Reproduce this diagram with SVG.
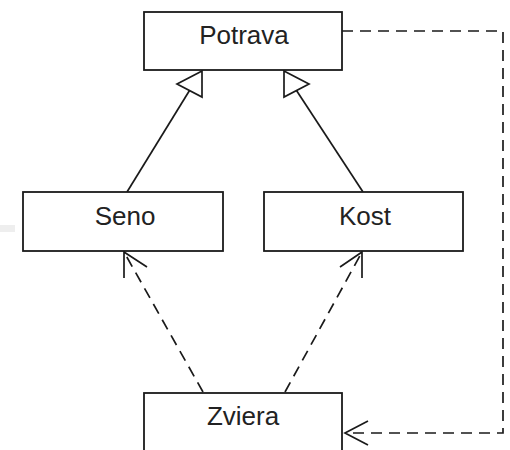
<svg xmlns="http://www.w3.org/2000/svg" width="510" height="450" viewBox="0 0 510 450">
<style>
.box{fill:#fff;stroke:#1a1a1a;stroke-width:1.8}
.lbl{font-family:"Liberation Sans",Arial,sans-serif;font-size:26px;fill:#222;text-anchor:middle}
.ln{fill:none;stroke:#1a1a1a;stroke-width:1.7}
.dash{fill:none;stroke:#1a1a1a;stroke-width:1.7;stroke-dasharray:11 7}
.tri{fill:#fff;stroke:#1a1a1a;stroke-width:1.7;stroke-linejoin:miter}
</style>
<rect x="0" y="225" width="15" height="7" fill="#eeeeee"/>
<g id="connectors">
<line class="ln" x1="127" y1="192" x2="189.5" y2="90.5"/>
<polygon class="tri" points="202,71 177,84 202,97"/>
<line class="ln" x1="363" y1="192" x2="296.5" y2="90.5"/>
<polygon class="tri" points="284,71 309,84 284,97"/>
<line class="dash" x1="203" y1="392" x2="124" y2="252"/>
<path class="ln" d="M124,278 L124,251 M124,252 L147,267"/>
<line class="dash" x1="285" y1="392" x2="362" y2="252"/>
<path class="ln" d="M362,278 L362,251 M362,252 L340,267"/>
<path class="dash" d="M342,31 L503,31 L503,433 L346,433"/>
<path class="ln" d="M368,421 L345,433 L368,445"/>
</g>
<g id="potrava"><rect class="box" x="144" y="12" width="198" height="58"/><text class="lbl" x="244" y="44">Potrava</text></g>
<g id="seno"><rect class="box" x="23" y="192" width="200" height="59"/><text class="lbl" x="125" y="225">Seno</text></g>
<g id="kost"><rect class="box" x="264" y="192" width="199" height="59"/><text class="lbl" x="365" y="225">Kost</text></g>
<g id="zviera"><rect class="box" x="144" y="393" width="198" height="62"/><text class="lbl" x="243" y="425">Zviera</text></g>
</svg>
